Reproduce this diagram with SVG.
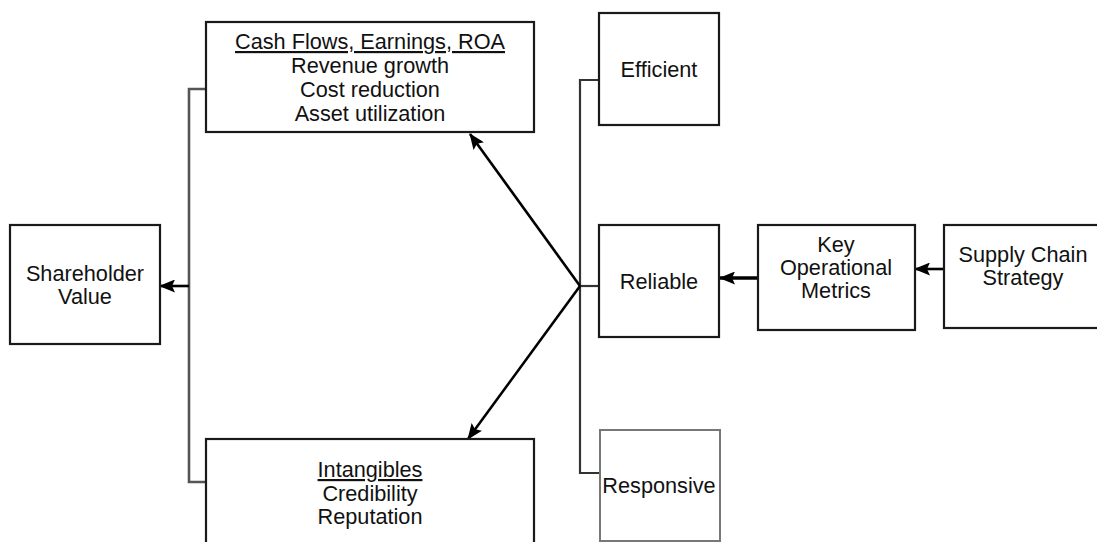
<svg xmlns="http://www.w3.org/2000/svg" width="1097" height="542" viewBox="0 0 1097 542">
  <defs>
    <marker id="arrow" viewBox="0 0 16 13" refX="15" refY="6.5" markerWidth="16" markerHeight="13" markerUnits="userSpaceOnUse" orient="auto">
      <path d="M0,0 L16,6.5 L0,13 L3,6.5 Z" fill="#000"/>
    </marker>
    <style>
      .box { fill: #fff; stroke: #1a1a1a; stroke-width: 2.2; }
      .box-light { fill: #fff; stroke: #777; stroke-width: 2; }
      .lbl { font-family: "Liberation Sans", Arial, sans-serif; font-size: 21.7px; fill: #111; text-anchor: middle; }
      .ul { text-decoration: underline; }
      .tree { fill: none; stroke: #333; stroke-width: 2.2; }
      .tree-grey { fill: none; stroke: #555; stroke-width: 2.6; }
      .flow { fill: none; stroke: #000; stroke-width: 2.6; marker-end: url(#arrow); }
      .flow-thick { fill: none; stroke: #000; stroke-width: 3.4; marker-end: url(#arrow); }
    </style>
  </defs>
  <rect width="1097" height="542" fill="#fff"/>

  <g id="connectors">
    <!-- bracket joining the two value drivers to shareholder value -->
    <polyline class="tree-grey" points="206,89 189,89 189,482 206,482"/>
    <line class="flow" x1="189" y1="286" x2="160" y2="286"/>
    <!-- bracket joining the three operational qualities -->
    <polyline class="tree" points="599,80 580,80 580,473 600,473"/>
    <line class="tree" x1="580" y1="286" x2="599" y2="286"/>
    <!-- fan-out from the operational bracket to the value drivers -->
    <line class="flow" x1="580" y1="286" x2="470" y2="134"/>
    <line class="flow" x1="580" y1="286" x2="468" y2="439"/>
    <!-- strategy chain -->
    <line class="flow-thick" x1="758" y1="278" x2="720" y2="278"/>
    <line class="flow" x1="944" y1="269" x2="915" y2="269"/>
  </g>

  <g id="cash-flows">
    <rect class="box" x="206" y="22" width="328" height="110"/>
    <text class="lbl ul" x="370" y="49">Cash Flows, Earnings, ROA</text>
    <text class="lbl" x="370" y="73">Revenue growth</text>
    <text class="lbl" x="370" y="97">Cost reduction</text>
    <text class="lbl" x="370" y="121">Asset utilization</text>
  </g>

  <g id="shareholder-value">
    <rect class="box" x="10" y="225" width="150" height="119"/>
    <text class="lbl" x="85" y="281">Shareholder</text>
    <text class="lbl" x="85" y="304">Value</text>
  </g>

  <g id="intangibles">
    <rect class="box" x="206" y="439" width="328" height="110"/>
    <text class="lbl ul" x="370" y="477">Intangibles</text>
    <text class="lbl" x="370" y="501">Credibility</text>
    <text class="lbl" x="370" y="524">Reputation</text>
  </g>

  <g id="efficient">
    <rect class="box" x="599" y="13" width="120" height="112"/>
    <text class="lbl" x="659" y="77">Efficient</text>
  </g>

  <g id="reliable">
    <rect class="box" x="599" y="225" width="120" height="112"/>
    <text class="lbl" x="659" y="289">Reliable</text>
  </g>

  <g id="responsive">
    <rect class="box-light" x="600" y="430" width="120" height="111"/>
    <text class="lbl" x="659" y="493">Responsive</text>
  </g>

  <g id="key-operational-metrics">
    <rect class="box" x="758" y="225" width="157" height="105"/>
    <text class="lbl" x="836" y="252">Key</text>
    <text class="lbl" x="836" y="275">Operational</text>
    <text class="lbl" x="836" y="298">Metrics</text>
  </g>

  <g id="supply-chain-strategy">
    <rect class="box" x="944" y="225" width="160" height="103"/>
    <text class="lbl" x="1023" y="262">Supply Chain</text>
    <text class="lbl" x="1023" y="285">Strategy</text>
  </g>
</svg>
